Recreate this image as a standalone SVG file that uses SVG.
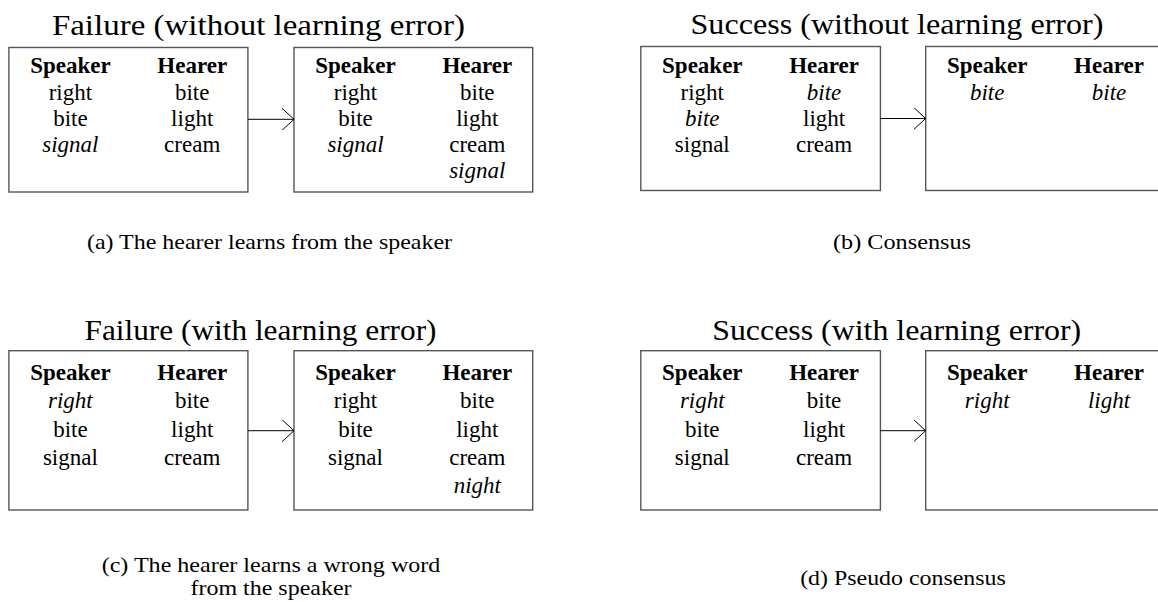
<svg xmlns="http://www.w3.org/2000/svg" width="1158" height="602" viewBox="0 0 1158 602">
<style>
text{font-family:"Liberation Serif","Times New Roman",serif;fill:#000;text-anchor:middle}
.title{font-size:30px}
.cap{font-size:22px}
.t{font-size:23px}
.h{font-size:23px;font-weight:bold}
.i{font-style:italic}
.box{fill:#fff;stroke:#555;stroke-width:1.4}
.conn{stroke:#000;stroke-width:1;fill:none}
</style>
<defs>
<marker id="arr" viewBox="0 0 12 22" refX="12" refY="11" markerWidth="12" markerHeight="22" markerUnits="userSpaceOnUse" orient="auto">
<path d="M0,0 L12,11 L0,22" fill="none" stroke="#000" stroke-width="1"/>
</marker>
</defs>
<rect width="1158" height="602" fill="#fff"/>

<g id="titles">
<text class="title" x="258.4" y="35" textLength="413" lengthAdjust="spacingAndGlyphs">Failure (without learning error)</text>
<text class="title" x="897" y="34" textLength="413" lengthAdjust="spacingAndGlyphs">Success (without learning error)</text>
<text class="title" x="260.5" y="340" textLength="352" lengthAdjust="spacingAndGlyphs">Failure (with learning error)</text>
<text class="title" x="896.7" y="340" textLength="369" lengthAdjust="spacingAndGlyphs">Success (with learning error)</text>
</g>

<g id="node-a1">
<rect class="box" x="8.9" y="47.5" width="239" height="144.5"/>
<text class="h" x="70.4" y="73.3">Speaker</text>
<text class="h" x="192.2" y="73.3">Hearer</text>
<text class="t" x="70.4" y="100">right</text>
<text class="t" x="70.4" y="126">bite</text>
<text class="t i" x="70.4" y="151.7">signal</text>
<text class="t" x="192.2" y="100">bite</text>
<text class="t" x="192.2" y="126">light</text>
<text class="t" x="192.2" y="151.7">cream</text>
</g>

<g id="node-a2">
<rect class="box" x="294" y="47.5" width="238.7" height="144.5"/>
<text class="h" x="355.5" y="73.3">Speaker</text>
<text class="h" x="477.3" y="73.3">Hearer</text>
<text class="t" x="355.5" y="100">right</text>
<text class="t" x="355.5" y="126">bite</text>
<text class="t i" x="355.5" y="151.7">signal</text>
<text class="t" x="477.3" y="100">bite</text>
<text class="t" x="477.3" y="126">light</text>
<text class="t" x="477.3" y="151.7">cream</text>
<text class="t i" x="477.3" y="178.3">signal</text>
</g>

<g id="node-b1">
<rect class="box" x="640.8" y="46.5" width="239.6" height="144"/>
<text class="h" x="702.3" y="73.3">Speaker</text>
<text class="h" x="824.1" y="73.3">Hearer</text>
<text class="t" x="702.3" y="100">right</text>
<text class="t i" x="702.3" y="126">bite</text>
<text class="t" x="702.3" y="151.7">signal</text>
<text class="t i" x="824.1" y="100">bite</text>
<text class="t" x="824.1" y="126">light</text>
<text class="t" x="824.1" y="151.7">cream</text>
</g>

<g id="node-b2">
<rect class="box" x="925.7" y="46.5" width="245" height="144"/>
<text class="h" x="987.2" y="73.3">Speaker</text>
<text class="h" x="1109" y="73.3">Hearer</text>
<text class="t i" x="987.2" y="100">bite</text>
<text class="t i" x="1109" y="100">bite</text>
</g>

<g id="node-c1">
<rect class="box" x="8.9" y="350.7" width="239" height="159.3"/>
<text class="h" x="70.4" y="380">Speaker</text>
<text class="h" x="192.2" y="380">Hearer</text>
<text class="t i" x="70.4" y="408.3">right</text>
<text class="t" x="70.4" y="436.7">bite</text>
<text class="t" x="70.4" y="465">signal</text>
<text class="t" x="192.2" y="408.3">bite</text>
<text class="t" x="192.2" y="436.7">light</text>
<text class="t" x="192.2" y="465">cream</text>
</g>

<g id="node-c2">
<rect class="box" x="294" y="350.7" width="238.7" height="159.3"/>
<text class="h" x="355.5" y="380">Speaker</text>
<text class="h" x="477.3" y="380">Hearer</text>
<text class="t" x="355.5" y="408.3">right</text>
<text class="t" x="355.5" y="436.7">bite</text>
<text class="t" x="355.5" y="465">signal</text>
<text class="t" x="477.3" y="408.3">bite</text>
<text class="t" x="477.3" y="436.7">light</text>
<text class="t" x="477.3" y="465">cream</text>
<text class="t i" x="477.3" y="493.3">night</text>
</g>

<g id="node-d1">
<rect class="box" x="640.8" y="350.7" width="239.6" height="159.3"/>
<text class="h" x="702.3" y="380">Speaker</text>
<text class="h" x="824.1" y="380">Hearer</text>
<text class="t i" x="702.3" y="408.3">right</text>
<text class="t" x="702.3" y="436.7">bite</text>
<text class="t" x="702.3" y="465">signal</text>
<text class="t" x="824.1" y="408.3">bite</text>
<text class="t" x="824.1" y="436.7">light</text>
<text class="t" x="824.1" y="465">cream</text>
</g>

<g id="node-d2">
<rect class="box" x="925.7" y="350.7" width="245" height="159.3"/>
<text class="h" x="987.2" y="380">Speaker</text>
<text class="h" x="1109" y="380">Hearer</text>
<text class="t i" x="987.2" y="408.3">right</text>
<text class="t i" x="1109" y="408.3">light</text>
</g>

<g id="connectors">
<line class="conn" x1="247.9" y1="119.3" x2="294" y2="119.3" marker-end="url(#arr)"/>
<line class="conn" x1="880.4" y1="118.5" x2="925.7" y2="118.5" marker-end="url(#arr)"/>
<line class="conn" x1="247.9" y1="430.7" x2="294" y2="430.7" marker-end="url(#arr)"/>
<line class="conn" x1="880.4" y1="430.7" x2="925.7" y2="430.7" marker-end="url(#arr)"/>
</g>

<g id="captions">
<text class="cap" x="269.5" y="249" textLength="365" lengthAdjust="spacingAndGlyphs">(a) The hearer learns from the speaker</text>
<text class="cap" x="902" y="249" textLength="138" lengthAdjust="spacingAndGlyphs">(b) Consensus</text>
<text class="cap" x="271" y="571.7" textLength="338.6" lengthAdjust="spacingAndGlyphs">(c) The hearer learns a wrong word</text>
<text class="cap" x="271" y="595" textLength="161" lengthAdjust="spacingAndGlyphs">from the speaker</text>
<text class="cap" x="903" y="585" textLength="205.7" lengthAdjust="spacingAndGlyphs">(d) Pseudo consensus</text>
</g>
</svg>
